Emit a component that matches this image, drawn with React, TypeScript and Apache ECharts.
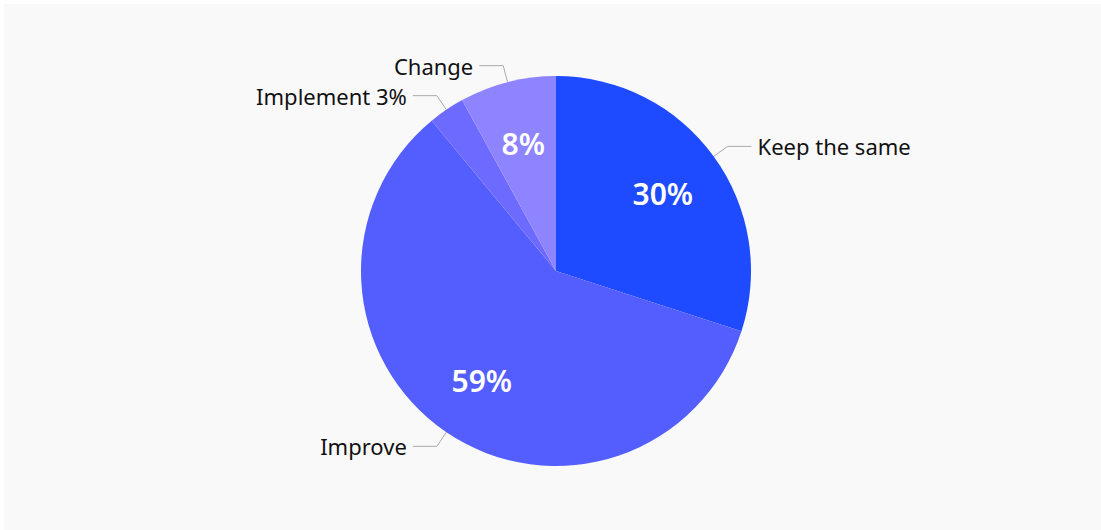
import React, { useEffect, useRef } from "react";
import * as echarts from "echarts";

const categories = ["Keep the same", "Improve", "Implement", "Change"];
const values = [30, 59, 3, 8];
const colors = ["#1e4bff", "#545eff", "#6d6bff", "#8f84ff"];
const insideShown = [true, true, false, true];
const outsideWithValue = [false, false, true, false];

const FONT = "'Noto Sans', sans-serif";

export default function App() {
  const ref = useRef<HTMLDivElement>(null);
  useEffect(() => {
    document.body.style.margin = "0";
    const chart = echarts.init(ref.current!, undefined, { renderer: "svg" });
    const outerData = categories.map((name, i) => ({
      name,
      value: values[i],
      itemStyle: { color: colors[i] },
      label: {
        formatter: outsideWithValue[i] ? `${name} ${values[i]}%` : name,
      },
    }));
    const innerData = categories.map((name, i) => ({
      name,
      value: values[i],
      label: { show: insideShown[i] },
    }));
    chart.setOption({
      animation: false,
      backgroundColor: "#f9f9f9",
      series: [
        {
          type: "pie",
          center: [552, 267],
          radius: [0, 195],
          startAngle: 90,
          clockwise: true,
          silent: true,
          data: outerData,
          itemStyle: { borderWidth: 0 },
          label: {
            show: true,
            position: "outside",
            color: "#111111",
            fontFamily: FONT,
            fontSize: 22,
            distanceToLabelLine: 6,
          },
          labelLine: {
            show: true,
            length: 17,
            length2: 24,
            lineStyle: { color: "#aaaaaa", width: 1 },
          },
        },
        {
          type: "pie",
          center: [552, 267],
          radius: [63, 195],
          startAngle: 90,
          clockwise: true,
          silent: true,
          data: innerData,
          itemStyle: { color: "rgba(0,0,0,0)", borderWidth: 0 },
          label: {
            show: true,
            position: "inside",
            formatter: "{c}%",
            color: "#ffffff",
            fontFamily: FONT,
            fontWeight: 600,
            fontSize: 30,
          },
          labelLine: { show: false },
        },
      ],
    });
    return () => chart.dispose();
  }, []);
  return (
    <div style={{ width: 1101, height: 530, background: "#ffffff", position: "relative" }}>
      <div
        ref={ref}
        style={{ position: "absolute", left: 4, top: 4, width: 1097, height: 526 }}
      />
    </div>
  );
}
